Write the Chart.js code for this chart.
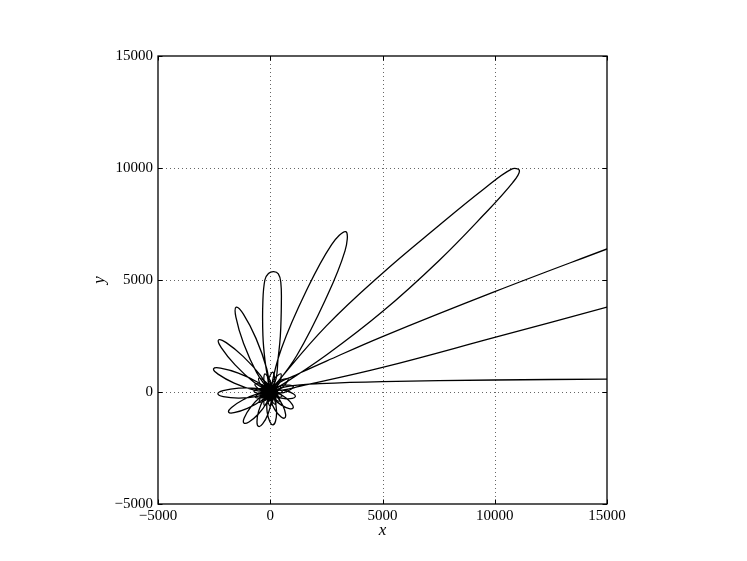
<!DOCTYPE html>
<html><head><meta charset="utf-8">
<script src="https://cdn.jsdelivr.net/npm/chart.js@4.4.1/dist/chart.umd.min.js"></script>
<style>html,body{margin:0;padding:0;background:#fff;}#wrap{width:747px;height:561px;}</style>
</head><body><div id="wrap"><canvas id="c" width="747" height="561"></canvas></div>
<script>
// tick values
const xTicks = [-5000, 0, 5000, 10000, 15000];
const yTicks = [-5000, 0, 5000, 10000, 15000];

// long tail: incoming line, then the open petal going off to the right
const tailX = [24000, 15000, 10000, 5000, 2200, 1000, 350, 600, 1300, 5000, 10000, 15000, 24000, 24000, 15000, 10000, 5000, 2500, 1000, 400, 150];
const tailY = [620, 575, 535, 460, 370, 280, 120, 90, 250, 1100, 2440, 3786, 6216, 9800, 6387, 4480, 2475, 1380, 700, 420, 150];

// petal pointing at ~42 deg
const petal42X = [430, 2500, 5000, 7500, 9500, 10800, 11100, 10750, 9500, 7500, 5000, 2500, 300, 89];
const petal42Y = [260, 1650, 3590, 5850, 7900, 9350, 9880, 9950, 9050, 7420, 5303, 2950, 420, 121];

// petal pointing at ~65 deg
const petal65X = [1182, 2446, 3330, 3368, 2733, 1596, 502, 35];
const petal65Y = [1630, 4094, 6301, 7157, 6582, 4494, 1950, 146];

// petal pointing at ~88 deg
const petal88X = [260, 343, 450, 495, 470, 360, 152, -80, -240, -330, -326, -237, -110, -26];
const petal88Y = [600, 1436, 2506, 4000, 4900, 5270, 5374, 5290, 5000, 4000, 2506, 1436, 600, 148];

// following petals (112 deg ... 350 deg)
const outerX = [
  -156, -630, -1196, -1515, -1530, -1187, -602, -83,
  -428, -1197, -1961, -2302, -2183, -1566, -723, -125,
  -558, -1423, -2217, -2524, -2326, -1606, -704, -148,
  -590, -1407, -2104, -2333, -2095, -1392, -578, -146,
  -539, -1206, -1725, -1855, -1613, -1019, -389, -119,
  -434, -879, -1160, -1172, -949, -528, -153, -74,
  -296, -519, -591, -518, -341, -102, 37, -18,
  -137, -137, -17, 120, 234, 282, 198, 43,
  20, 210, 473, 642, 683, 560, 301, 100,
  165, 497, 844, 1012, 977, 717, 341, 138,
  254, 639, 988, 1119, 1026, 703, 305, 150];
const outerY = [
  1036, 2383, 3474, 3786, 3341, 2161, 858, 125,
  728, 1579, 2204, 2326, 1984, 1213, 435, 83,
  436, 843, 1065, 1035, 799, 399, 81, 26,
  156, 171, 59, -81, -205, -269, -196, -36,
  -69, -344, -691, -897, -923, -732, -379, -92,
  -228, -684, -1159, -1387, -1337, -981, -466, -131,
  -329, -853, -1343, -1538, -1427, -993, -441, -149,
  -380, -895, -1327, -1463, -1306, -861, -352, -144,
  -368, -794, -1105, -1163, -989, -601, -213, -112,
  -303, -586, -740, -719, -554, -277, -56, -58,
  -192, -298, -288, -201, -75, 56, 91, 4];

// small petals around the centre
const innerX = [
  0, 605, 1032, 530, 0, 532, 800, 348, 0, 390, 473, 131, 0, 203, 107, -85,
  0, 3, -239, -266, 0, -179, -514, -387, 0, -319, -686, -437, 0, -395, -733, -411,
  0, -406, -664, -325, 0, -352, -494, -192, 0, -250, -262, -39, 0, -115, -5, 109,
  0, 27, 233, 229, 0, 155, 418, 305, 0, 251, 524, 325, 0, 301, 539, 292,
  0, 300, 467, 214, 0, 253, 329, 109, 0, 168, 147, -7, 0, 63, -49, -116, 0];
const innerY = [
  0, -27, 242, 294, 0, 201, 592, 450, 0, 371, 812, 522, 0, 469, 884, 504,
  0, 486, 811, 407, 0, 427, 619, 255, 0, 308, 350, 77, 0, 151, 47, -99,
  0, -17, -237, -243, 0, -166, -459, -339, 0, -281, -595, -374, 0, -343, -625, -345,
  0, -347, -553, -262, 0, -299, -402, -143, 0, -207, -197, -10, 0, -86, 25, 114,
  0, 37, 228, 214, 0, 149, 383, 273, 0, 230, 468, 285, 0, 269, 472, 250, 0];

// densely packed core
const coreX = [0, -224, 0, -357, 0, -427, 0, -425, 0, -355, 0, -231, 0, -76, 0, 84, 0, 227, 0, 330, 0, 376, 0, 361, 0, 288, 0, 171, 0, 29, 0, -114, 0, -234, 0, -313, 0, -340, 0, -311, 0, -233, 0, -119, 0, 10, 0, 134, 0, 232, 0, 290, 0, 299, 0, 260, 0, 180, 0, 74, 0, -40, 0];
const coreY = [0, 402, 0, 274, 0, 108, 0, -68, 0, -225, 0, -339, 0, -393, 0, -386, 0, -317, 0, -199, 0, -52, 0, 100, 0, 232, 0, 323, 0, 359, 0, 336, 0, 260, 0, 144, 0, 8, 0, -125, 0, -234, 0, -302, 0, -320, 0, -285, 0, -206, 0, -96, 0, 26, 0, 140, 0, 227, 0, 275, 0, 277, 0];

function pts(xs, ys) { return xs.map((x, i) => ({x: x, y: ys[i]})); }
const mainData = [].concat(pts(tailX, tailY), pts(petal42X, petal42Y), pts(petal65X, petal65Y), pts(petal88X, petal88Y), pts(outerX, outerY));

const SERIF = '"Liberation Serif", "DejaVu Serif", serif';
const fmt = v => (v < 0 ? '\u2212' + Math.abs(v) : String(v));

const framePlugin = {
  id: 'frame',
  beforeDatasetsDraw(chart) {
    const ctx = chart.ctx, a = chart.chartArea, xs = chart.scales.x, ys = chart.scales.y;
    ctx.save();
    ctx.strokeStyle = 'rgba(0,0,0,0.6)';
    ctx.lineWidth = 1;
    ctx.setLineDash([1, 3]);
    xTicks.forEach(v => {
      if (v <= xs.min || v >= xs.max) return;
      const p = Math.round(xs.getPixelForValue(v)) + 0.5;
      ctx.beginPath(); ctx.moveTo(p, a.top); ctx.lineTo(p, a.bottom); ctx.stroke();
    });
    yTicks.forEach(v => {
      if (v <= ys.min || v >= ys.max) return;
      const p = Math.round(ys.getPixelForValue(v)) + 0.5;
      ctx.beginPath(); ctx.moveTo(a.left, p); ctx.lineTo(a.right, p); ctx.stroke();
    });
    ctx.restore();
  },
  afterDatasetsDraw(chart) {
    const ctx = chart.ctx, a = chart.chartArea, xs = chart.scales.x, ys = chart.scales.y;
    ctx.save();
    ctx.strokeStyle = '#000';
    ctx.lineWidth = 1.3;
    ctx.setLineDash([]);
    ctx.strokeRect(a.left, a.top, a.right - a.left, a.bottom - a.top);
    ctx.lineWidth = 1;
    const L = 4.5;
    xTicks.forEach(v => {
      const p = Math.round(xs.getPixelForValue(v)) + 0.5;
      ctx.beginPath();
      ctx.moveTo(p, a.bottom); ctx.lineTo(p, a.bottom - L);
      ctx.moveTo(p, a.top); ctx.lineTo(p, a.top + L);
      ctx.stroke();
    });
    yTicks.forEach(v => {
      const p = Math.round(ys.getPixelForValue(v)) + 0.5;
      ctx.beginPath();
      ctx.moveTo(a.left, p); ctx.lineTo(a.left + L, p);
      ctx.moveTo(a.right, p); ctx.lineTo(a.right - L, p);
      ctx.stroke();
    });
    ctx.restore();
  }
};

new Chart(document.getElementById('c'), {
  type: 'scatter',
  data: {
    datasets: [
      {data: mainData, showLine: true, borderColor: '#000', borderWidth: 1.3, tension: 0.4, pointRadius: 0, fill: false},
      {data: pts(innerX, innerY), showLine: true, borderColor: '#000', borderWidth: 1.2, tension: 0.35, pointRadius: 0, fill: false},
      {data: pts(coreX, coreY), showLine: true, borderColor: '#000', borderWidth: 2.6, tension: 0, pointRadius: 0, fill: false}
    ]
  },
  options: {
    responsive: false,
    animation: false,
    devicePixelRatio: 1,
    layout: {padding: {top: 56, right: 140, bottom: 0, left: 0}},
    plugins: {legend: {display: false}, tooltip: {enabled: false}},
    elements: {line: {capBezierPoints: false, borderJoinStyle: 'round'}},
    scales: {
      x: {
        type: 'linear', min: -5000, max: 15000,
        afterBuildTicks: s => { s.ticks = xTicks.map(v => ({value: v})); },
        afterFit: s => { s.height = 57; },
        grid: {display: false, drawTicks: false}, border: {display: false},
        ticks: {color: '#000', font: {family: SERIF, size: 15}, padding: 3, maxRotation: 0, autoSkip: false, callback: fmt},
        title: {display: true, text: 'x', color: '#000', font: {family: SERIF, size: 17, style: 'italic'}, padding: {top: 0, bottom: 20}}
      },
      y: {
        type: 'linear', min: -5000, max: 15000,
        afterBuildTicks: s => { s.ticks = yTicks.map(v => ({value: v})); },
        afterFit: s => { s.width = 158; },
        grid: {display: false, drawTicks: false}, border: {display: false},
        ticks: {color: '#000', font: {family: SERIF, size: 15}, padding: 5, autoSkip: false, callback: fmt},
        title: {display: true, text: 'y', color: '#000', font: {family: SERIF, size: 17, style: 'italic'}, padding: {top: 89, bottom: 0}}
      }
    }
  },
  plugins: [framePlugin]
});
</script></body></html>
